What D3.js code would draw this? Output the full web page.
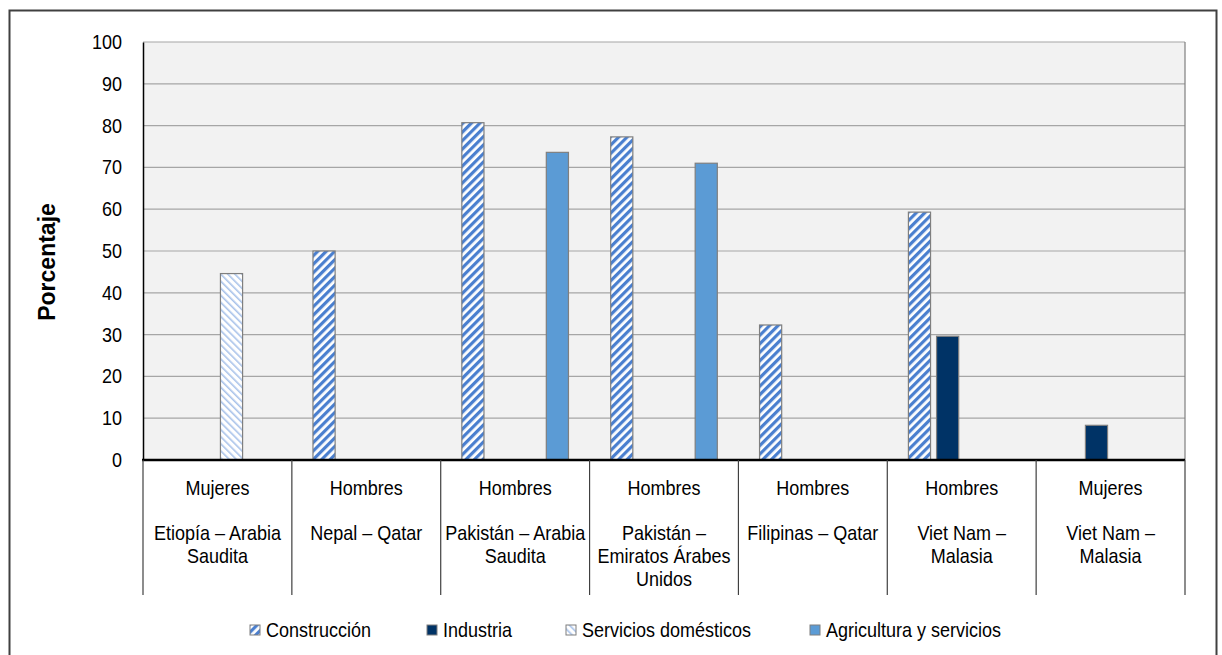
<!DOCTYPE html>
<html>
<head>
<meta charset="utf-8">
<script src="https://cdn.jsdelivr.net/npm/d3@7"></script>
<style>
  body { margin: 0; background: #fff; }
  svg { display: block; font-family: "Liberation Sans", Arial, sans-serif; }
</style>
</head>
<body>
<svg id="chart"></svg>
<script>
// data
const groups = ["Mujeres", "Hombres", "Hombres", "Hombres", "Hombres", "Hombres", "Mujeres"];
const routes = [
    ["Etiopía – Arabia", "Saudita"],
    ["Nepal – Qatar"],
    ["Pakistán – Arabia", "Saudita"],
    ["Pakistán –", "Emiratos Árabes", "Unidos"],
    ["Filipinas – Qatar"],
    ["Viet Nam –", "Malasia"],
    ["Viet Nam –", "Malasia"]
];
const seriesNames = ["Construcción", "Industria", "Servicios domésticos", "Agricultura y servicios"];
const construccion = [null, 50.0, 80.7, 77.3, 32.3, 59.3, null];
const industria = [null, null, null, null, null, 29.6, 8.3];
const serviciosDomesticos = [44.6, null, null, null, null, null, null];
const agricultura = [null, null, 73.6, 71.0, null, null, null];
const yTicks = [0, 10, 20, 30, 40, 50, 60, 70, 80, 90, 100];

const seriesValues = [construccion, industria, serviciosDomesticos, agricultura];

const width = 1222, height = 655;
const margin = { top: 42, right: 37, bottom: 195, left: 143 };
const plotW = width - margin.left - margin.right;
const plotH = height - margin.top - margin.bottom;

// text looks narrow in the original: taller font squeezed horizontally
const FS = "20px";
const SQ = 0.9;

const svg = d3.select("#chart").attr("width", width).attr("height", height);

// patterns
const defs = svg.append("defs");
const pConst = defs.append("pattern")
    .attr("id", "pat-const").attr("patternUnits", "userSpaceOnUse")
    .attr("width", 6).attr("height", 6)
    .attr("patternTransform", "rotate(45)");
pConst.append("rect").attr("width", 6).attr("height", 6).attr("fill", "#ffffff");
pConst.append("rect").attr("width", 3.2).attr("height", 6).attr("fill", "#4a7fcf");

const pServ = defs.append("pattern")
    .attr("id", "pat-serv").attr("patternUnits", "userSpaceOnUse")
    .attr("width", 5).attr("height", 5)
    .attr("patternTransform", "rotate(-45)");
pServ.append("rect").attr("width", 5).attr("height", 5).attr("fill", "#ffffff");
pServ.append("rect").attr("width", 1.6).attr("height", 5).attr("fill", "#a9c3ea");

const fills = ["url(#pat-const)", "#003366", "url(#pat-serv)", "#5b9bd5"];

// outer frame
svg.append("rect")
    .attr("x", 9.5).attr("y", 10.5)
    .attr("width", 1207).attr("height", 660)
    .attr("fill", "none").attr("stroke", "#404040").attr("stroke-width", 2);

const g = svg.append("g").attr("transform", `translate(${margin.left},${margin.top})`);

const x0 = d3.scaleBand().domain(d3.range(groups.length)).range([0, plotW]).padding(0);
const x1 = d3.scaleBand().domain(d3.range(seriesNames.length)).range([0, x0.bandwidth()])
    .paddingInner(0.214).paddingOuter(0.75);
const y = d3.scaleLinear().domain([0, 100]).range([plotH, 0]);

g.append("rect").attr("width", plotW).attr("height", plotH).attr("fill", "#f2f2f2");

// gridlines
g.selectAll("line.grid")
    .data(yTicks.filter(d => d > 0))
    .join("line")
    .attr("class", "grid")
    .attr("x1", 0).attr("x2", plotW)
    .attr("y1", d => y(d)).attr("y2", d => y(d))
    .attr("stroke", "#a6a6a6").attr("stroke-width", 1.2);

// right border of plot
g.append("line").attr("x1", plotW).attr("x2", plotW).attr("y1", 0).attr("y2", plotH)
    .attr("stroke", "#7f7f7f").attr("stroke-width", 1.2);

// bars
const barData = [];
seriesValues.forEach((vals, s) => {
    vals.forEach((v, i) => {
        if (v != null) barData.push({ s, i, v });
    });
});

g.selectAll("rect.bar")
    .data(barData)
    .join("rect")
    .attr("class", "bar")
    .attr("x", d => x0(d.i) + x1(d.s))
    .attr("y", d => y(d.v))
    .attr("width", x1.bandwidth())
    .attr("height", d => plotH - y(d.v))
    .attr("fill", d => fills[d.s])
    .attr("stroke", "#7f7f7f")
    .attr("stroke-width", 1.2);

// y axis
const yAxis = g.append("g")
    .call(d3.axisLeft(y).tickValues(yTicks).tickSize(0));
yAxis.select(".domain").attr("stroke", "#000").attr("stroke-width", 1.5);
yAxis.selectAll("text")
    .attr("x", -21 / SQ)
    .attr("transform", `scale(${SQ},1)`)
    .attr("font-size", FS).attr("fill", "#000")
    .attr("font-family", "'Liberation Sans', Arial, sans-serif");

// bottom axis line
g.append("line").attr("x1", -1).attr("x2", plotW).attr("y1", plotH).attr("y2", plotH)
    .attr("stroke", "#000").attr("stroke-width", 2.5);

// category separators
const seps = d3.range(groups.length + 1).map(i => i === groups.length ? plotW : x0(i));
g.selectAll("line.sep")
    .data(seps)
    .join("line")
    .attr("class", "sep")
    .attr("x1", d => d).attr("x2", d => d)
    .attr("y1", plotH).attr("y2", plotH + 135)
    .attr("stroke", "#404040").attr("stroke-width", 1.2);

// category labels
const cats = g.selectAll("g.cat")
    .data(groups.map((grp, i) => ({ grp, route: routes[i], i })))
    .join("g")
    .attr("class", "cat")
    .attr("transform", d => `translate(${x0(d.i) + x0.bandwidth() / 2},${plotH}) scale(${SQ},1)`);

cats.append("text")
    .attr("y", 35)
    .attr("text-anchor", "middle")
    .attr("font-size", FS)
    .attr("fill", "#000")
    .text(d => d.grp);

cats.append("text")
    .attr("text-anchor", "middle")
    .attr("font-size", FS)
    .attr("fill", "#000")
    .selectAll("tspan")
    .data(d => d.route)
    .join("tspan")
    .attr("x", 0)
    .attr("y", (d, k) => 80 + k * 23)
    .text(d => d);

// y label
svg.append("text")
    .attr("transform", `translate(55,${margin.top + plotH / 2 + 11}) rotate(-90)`)
    .attr("text-anchor", "middle")
    .attr("font-size", "23px")
    .attr("font-weight", "bold")
    .attr("fill", "#000")
    .text("Porcentaje");

// legend
const legendX = [250, 427, 566, 810];
const legend = svg.append("g").attr("transform", "translate(0,630)");
const items = legend.selectAll("g.item")
    .data(seriesNames)
    .join("g")
    .attr("class", "item")
    .attr("transform", (d, i) => `translate(${legendX[i]},0)`);

items.append("rect")
    .attr("x", 0).attr("y", -5)
    .attr("width", 10).attr("height", 10)
    .attr("fill", (d, i) => fills[i])
    .attr("stroke", "#7f7f7f").attr("stroke-width", 1);

items.append("text")
    .attr("x", 16 / SQ).attr("y", 7)
    .attr("transform", `scale(${SQ},1)`)
    .attr("font-size", FS)
    .attr("fill", "#000")
    .text(d => d);
</script>
</body>
</html>
